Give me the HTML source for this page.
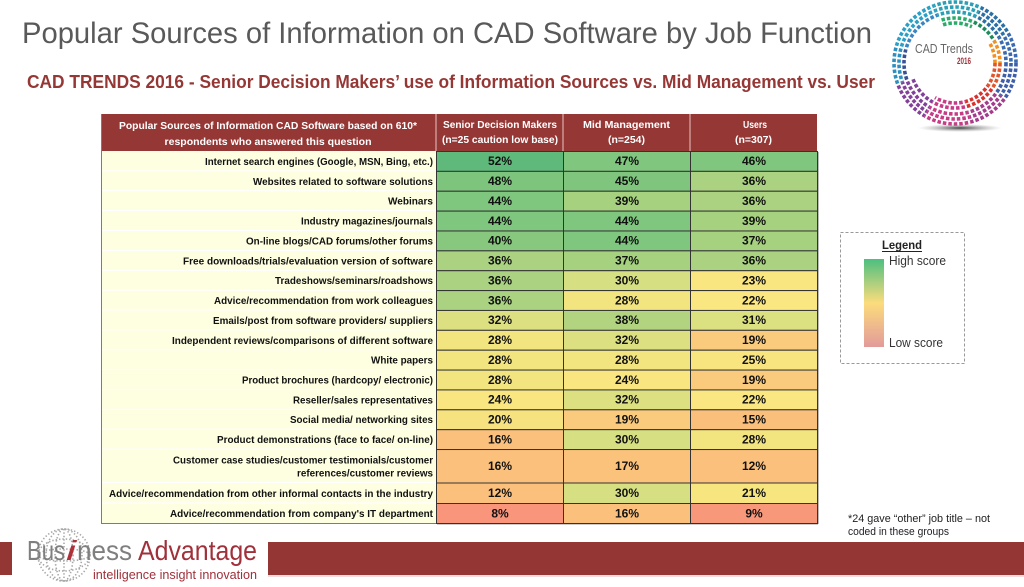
<!DOCTYPE html>
<html>
<head>
<meta charset="utf-8">
<style>
html,body{margin:0;padding:0;background:#fff;}
svg{display:block;}
text{font-family:"Liberation Sans",sans-serif;}
</style>
</head>
<body>
<svg width="1024" height="587" viewBox="0 0 1024 587" xmlns="http://www.w3.org/2000/svg">
<defs>
<linearGradient id="lg" x1="0" y1="0" x2="0" y2="1">
<stop offset="0" stop-color="#4cbf7f"/>
<stop offset="0.5" stop-color="#fcdc7c"/>
<stop offset="1" stop-color="#e29a9a"/>
</linearGradient>
<radialGradient id="sh" cx="0.5" cy="0.5" r="0.5">
<stop offset="0" stop-color="#333" stop-opacity="0.9"/>
<stop offset="1" stop-color="#999" stop-opacity="0"/>
</radialGradient>
<clipPath id="w1"><polygon points="955,63 1035,63 1020.5,108.9"/></clipPath>
<clipPath id="w2"><polygon points="955,63 1020.5,108.9 975.7,140.3"/></clipPath>
<clipPath id="w3"><polygon points="955,63 975.7,140.3 915,132.3"/></clipPath>
<clipPath id="w4"><polygon points="955,63 915,132.3 879.8,90.4"/></clipPath>
<clipPath id="w5"><polygon points="955,63 879.8,90.4 877.7,42.3"/></clipPath>
<clipPath id="w6"><polygon points="955,63 877.7,42.3 927.6,-12.2"/></clipPath>
<clipPath id="w7"><polygon points="955,63 927.6,-12.2 988.8,-9.5"/></clipPath>
<clipPath id="w8"><polygon points="955,63 988.8,-9.5 1024.3,23"/></clipPath>
<clipPath id="w9"><polygon points="955,63 1024.3,23 1035,63"/></clipPath>
</defs>
<rect width="1024" height="587" fill="#fff"/>

<!-- Title -->
<text x="22" y="43" font-size="30" fill="#595959" textLength="850" lengthAdjust="spacingAndGlyphs">Popular Sources of Information on CAD Software by Job Function</text>
<text x="27" y="88" font-size="18" font-weight="bold" fill="#953735" textLength="848" lengthAdjust="spacingAndGlyphs">CAD TRENDS 2016 - Senior Decision Makers’ use of Information Sources vs. Mid Management vs. User</text>

<!-- CAD Trends logo ring -->
<g fill="none" stroke-width="3.6">
<g clip-path="url(#w1)">
<g stroke="#e2542a" stroke-dasharray="3.5 2"><circle cx="955" cy="63" r="40"/><circle cx="955" cy="63" r="45"/></g>
<g stroke="#3d5ea8" stroke-dasharray="3.5 2"><circle cx="955" cy="63" r="51"/><circle cx="955" cy="63" r="56"/><circle cx="955" cy="63" r="61"/></g>
</g>
<g clip-path="url(#w2)">
<g stroke="#d8322f" stroke-dasharray="3.5 2"><circle cx="955" cy="63" r="40"/><circle cx="955" cy="63" r="45"/></g>
<g stroke="#a33c8c" stroke-dasharray="3.5 2"><circle cx="955" cy="63" r="51"/><circle cx="955" cy="63" r="56"/><circle cx="955" cy="63" r="61"/></g>
</g>
<g clip-path="url(#w3)" stroke="#c63a86" stroke-dasharray="3.5 2">
<circle cx="955" cy="63" r="40"/><circle cx="955" cy="63" r="45"/><circle cx="955" cy="63" r="51"/><circle cx="955" cy="63" r="56"/><circle cx="955" cy="63" r="61"/>
</g>
<g clip-path="url(#w4)" stroke="#83409b" stroke-dasharray="3.5 2">
<circle cx="955" cy="63" r="45"/><circle cx="955" cy="63" r="51"/><circle cx="955" cy="63" r="56"/><circle cx="955" cy="63" r="61"/>
</g>
<g clip-path="url(#w5)">
<g stroke="#3a4f96" stroke-dasharray="3.5 2"><circle cx="955" cy="63" r="51"/></g>
<g stroke="#2d8fc0" stroke-dasharray="3.5 2"><circle cx="955" cy="63" r="56"/><circle cx="955" cy="63" r="61"/></g>
</g>
<g clip-path="url(#w6)">
<g stroke="#3b86c0" stroke-dasharray="3.5 2"><circle cx="955" cy="63" r="51"/></g>
<g stroke="#2aa0c6" stroke-dasharray="3.5 2"><circle cx="955" cy="63" r="56"/><circle cx="955" cy="63" r="61"/></g>
</g>
<g clip-path="url(#w7)">
<g stroke="#2bab6a" stroke-dasharray="3.5 2"><circle cx="955" cy="63" r="40"/><circle cx="955" cy="63" r="45"/></g>
<g stroke="#2a9fb5" stroke-dasharray="3.5 2"><circle cx="955" cy="63" r="51"/><circle cx="955" cy="63" r="56"/><circle cx="955" cy="63" r="61"/></g>
</g>
<g clip-path="url(#w8)">
<g stroke="#1d8a5a" stroke-dasharray="3.5 2"><circle cx="955" cy="63" r="45"/></g>
<g stroke="#2a6fa5" stroke-dasharray="3.5 2"><circle cx="955" cy="63" r="51"/><circle cx="955" cy="63" r="56"/><circle cx="955" cy="63" r="61"/></g>
</g>
<g clip-path="url(#w9)">
<g stroke="#f29023" stroke-dasharray="3.5 2"><circle cx="955" cy="63" r="40"/><circle cx="955" cy="63" r="45"/></g>
<g stroke="#3b6ab0" stroke-dasharray="3.5 2"><circle cx="955" cy="63" r="51"/><circle cx="955" cy="63" r="56"/><circle cx="955" cy="63" r="61"/></g>
</g>
</g>
<ellipse cx="960" cy="128" rx="42" ry="4" fill="url(#sh)"/>
<text x="915" y="53" font-size="13" fill="#666" textLength="58" lengthAdjust="spacingAndGlyphs">CAD Trends</text>
<text x="957" y="64" font-size="9" font-weight="bold" fill="#a0303a" textLength="14" lengthAdjust="spacingAndGlyphs">2016</text>

<!-- Table header -->
<rect x="101" y="114" width="716" height="37" fill="#953735"/>
<g stroke="#e6c4c4" stroke-width="1">
<line x1="436" y1="114" x2="436" y2="151"/>
<line x1="563" y1="114" x2="563" y2="151"/>
<line x1="690" y1="114" x2="690" y2="151"/>
</g>
<g fill="#fff" font-weight="bold" font-size="10.5" text-anchor="middle">
<text x="268" y="129" textLength="298" lengthAdjust="spacingAndGlyphs">Popular Sources of Information CAD Software based on 610*</text>
<text x="268" y="145" textLength="207" lengthAdjust="spacingAndGlyphs">respondents who answered this question</text>
<text x="500" y="128" textLength="114" lengthAdjust="spacingAndGlyphs">Senior Decision Makers</text>
<text x="500" y="143" textLength="116" lengthAdjust="spacingAndGlyphs">(n=25 caution low base)</text>
<text x="626.5" y="128" textLength="87" lengthAdjust="spacingAndGlyphs">Mid Management</text>
<text x="626.5" y="143" textLength="37" lengthAdjust="spacingAndGlyphs">(n=254)</text>
<text x="755" y="128" textLength="24" lengthAdjust="spacingAndGlyphs">Users</text>
<text x="753.5" y="143" textLength="37" lengthAdjust="spacingAndGlyphs">(n=307)</text>
</g>

<!-- label column background -->
<rect x="101" y="151" width="335" height="372" fill="#fefee1"/>
<g stroke="#ffffff" stroke-width="1.2">
<line x1="102" y1="170.87" x2="436" y2="170.87"/>
<line x1="102" y1="190.74" x2="436" y2="190.74"/>
<line x1="102" y1="210.61" x2="436" y2="210.61"/>
<line x1="102" y1="230.48" x2="436" y2="230.48"/>
<line x1="102" y1="250.35" x2="436" y2="250.35"/>
<line x1="102" y1="270.22" x2="436" y2="270.22"/>
<line x1="102" y1="290.09" x2="436" y2="290.09"/>
<line x1="102" y1="309.96" x2="436" y2="309.96"/>
<line x1="102" y1="329.83" x2="436" y2="329.83"/>
<line x1="102" y1="349.70" x2="436" y2="349.70"/>
<line x1="102" y1="369.57" x2="436" y2="369.57"/>
<line x1="102" y1="389.44" x2="436" y2="389.44"/>
<line x1="102" y1="409.31" x2="436" y2="409.31"/>
<line x1="102" y1="429.18" x2="436" y2="429.18"/>
<line x1="102" y1="449.05" x2="436" y2="449.05"/>
<line x1="102" y1="482.5" x2="436" y2="482.5"/>
<line x1="102" y1="503" x2="436" y2="503"/>
</g>

<!-- labels -->
<g font-size="10.5" font-weight="bold" fill="#111" text-anchor="end">
<text x="433" y="164.9" textLength="228" lengthAdjust="spacingAndGlyphs">Internet search engines (Google, MSN, Bing, etc.)</text>
<text x="433" y="184.8" textLength="180" lengthAdjust="spacingAndGlyphs">Websites related to software solutions</text>
<text x="433" y="204.7" textLength="45" lengthAdjust="spacingAndGlyphs">Webinars</text>
<text x="433" y="224.5" textLength="132" lengthAdjust="spacingAndGlyphs">Industry magazines/journals</text>
<text x="433" y="244.4" textLength="187" lengthAdjust="spacingAndGlyphs">On-line blogs/CAD forums/other forums</text>
<text x="433" y="264.3" textLength="250" lengthAdjust="spacingAndGlyphs">Free downloads/trials/evaluation version of software</text>
<text x="433" y="284.2" textLength="158" lengthAdjust="spacingAndGlyphs">Tradeshows/seminars/roadshows</text>
<text x="433" y="304.0" textLength="219" lengthAdjust="spacingAndGlyphs">Advice/recommendation from work colleagues</text>
<text x="433" y="323.9" textLength="220" lengthAdjust="spacingAndGlyphs">Emails/post from software providers/ suppliers</text>
<text x="433" y="343.8" textLength="261" lengthAdjust="spacingAndGlyphs">Independent reviews/comparisons of different software</text>
<text x="433" y="363.6" textLength="62" lengthAdjust="spacingAndGlyphs">White papers</text>
<text x="433" y="383.5" textLength="191" lengthAdjust="spacingAndGlyphs">Product brochures (hardcopy/ electronic)</text>
<text x="433" y="403.4" textLength="140" lengthAdjust="spacingAndGlyphs">Reseller/sales representatives</text>
<text x="433" y="423.2" textLength="143" lengthAdjust="spacingAndGlyphs">Social media/ networking sites</text>
<text x="433" y="443.1" textLength="216" lengthAdjust="spacingAndGlyphs">Product demonstrations (face to face/ on-line)</text>
<text x="433" y="463.3" textLength="260" lengthAdjust="spacingAndGlyphs">Customer case studies/customer testimonials/customer</text>
<text x="433" y="476.3" textLength="136" lengthAdjust="spacingAndGlyphs">references/customer reviews</text>
<text x="433" y="496.8" textLength="324" lengthAdjust="spacingAndGlyphs">Advice/recommendation from other informal contacts in the industry</text>
<text x="433" y="517" textLength="263" lengthAdjust="spacingAndGlyphs">Advice/recommendation from company's IT department</text>
</g>

<!-- data cells -->
<g stroke="#333" stroke-width="1">
<rect x="436.5" y="151.5" width="127" height="19.87" fill="#5eb97b"/><rect x="563.5" y="151.5" width="127" height="19.87" fill="#80c67e"/><rect x="690.5" y="151.5" width="127" height="19.87" fill="#81c67e"/>
<rect x="436.5" y="171.37" width="127" height="19.87" fill="#7dc57d"/><rect x="563.5" y="171.37" width="127" height="19.87" fill="#7fc57d"/><rect x="690.5" y="171.37" width="127" height="19.87" fill="#aad280"/>
<rect x="436.5" y="191.24" width="127" height="19.87" fill="#7fc67e"/><rect x="563.5" y="191.24" width="127" height="19.87" fill="#a6d17f"/><rect x="690.5" y="191.24" width="127" height="19.87" fill="#aad280"/>
<rect x="436.5" y="211.11" width="127" height="19.87" fill="#7fc67e"/><rect x="563.5" y="211.11" width="127" height="19.87" fill="#7fc67e"/><rect x="690.5" y="211.11" width="127" height="19.87" fill="#a6d17f"/>
<rect x="436.5" y="230.98" width="127" height="19.87" fill="#88c87e"/><rect x="563.5" y="230.98" width="127" height="19.87" fill="#7fc67e"/><rect x="690.5" y="230.98" width="127" height="19.87" fill="#a6d17f"/>
<rect x="436.5" y="250.85" width="127" height="19.87" fill="#aad280"/><rect x="563.5" y="250.85" width="127" height="19.87" fill="#a6d17f"/><rect x="690.5" y="250.85" width="127" height="19.87" fill="#aad280"/>
<rect x="436.5" y="270.72" width="127" height="19.87" fill="#aad280"/><rect x="563.5" y="270.72" width="127" height="19.87" fill="#d6df81"/><rect x="690.5" y="270.72" width="127" height="19.87" fill="#fae681"/>
<rect x="436.5" y="290.59" width="127" height="19.87" fill="#aad280"/><rect x="563.5" y="290.59" width="127" height="19.87" fill="#f2e47f"/><rect x="690.5" y="290.59" width="127" height="19.87" fill="#fbe782"/>
<rect x="436.5" y="310.46" width="127" height="19.87" fill="#dde081"/><rect x="563.5" y="310.46" width="127" height="19.87" fill="#b2d480"/><rect x="690.5" y="310.46" width="127" height="19.87" fill="#dbe081"/>
<rect x="436.5" y="330.33" width="127" height="19.87" fill="#f2e47f"/><rect x="563.5" y="330.33" width="127" height="19.87" fill="#dde081"/><rect x="690.5" y="330.33" width="127" height="19.87" fill="#fbcb7d"/>
<rect x="436.5" y="350.2" width="127" height="19.87" fill="#f2e47f"/><rect x="563.5" y="350.2" width="127" height="19.87" fill="#f2e47f"/><rect x="690.5" y="350.2" width="127" height="19.87" fill="#f8e580"/>
<rect x="436.5" y="370.07" width="127" height="19.87" fill="#f2e47f"/><rect x="563.5" y="370.07" width="127" height="19.87" fill="#f9e681"/><rect x="690.5" y="370.07" width="127" height="19.87" fill="#fbcb7d"/>
<rect x="436.5" y="389.94" width="127" height="19.87" fill="#f9e681"/><rect x="563.5" y="389.94" width="127" height="19.87" fill="#dde081"/><rect x="690.5" y="389.94" width="127" height="19.87" fill="#fbe782"/>
<rect x="436.5" y="409.81" width="127" height="19.87" fill="#f6e37f"/><rect x="563.5" y="409.81" width="127" height="19.87" fill="#fbcb7d"/><rect x="690.5" y="409.81" width="127" height="19.87" fill="#fbbf7c"/>
<rect x="436.5" y="429.68" width="127" height="19.87" fill="#fbc17c"/><rect x="563.5" y="429.68" width="127" height="19.87" fill="#d6df81"/><rect x="690.5" y="429.68" width="127" height="19.87" fill="#f2e47f"/>
<rect x="436.5" y="449.55" width="127" height="33.45" fill="#fbc17c"/><rect x="563.5" y="449.55" width="127" height="33.45" fill="#fbc27c"/><rect x="690.5" y="449.55" width="127" height="33.45" fill="#fbc07c"/>
<rect x="436.5" y="483" width="127" height="20.5" fill="#fbc07c"/><rect x="563.5" y="483" width="127" height="20.5" fill="#d6df81"/><rect x="690.5" y="483" width="127" height="20.5" fill="#f7e580"/>
<rect x="436.5" y="503.5" width="127" height="20" fill="#f8957a"/><rect x="563.5" y="503.5" width="127" height="20" fill="#fbc17c"/><rect x="690.5" y="503.5" width="127" height="20" fill="#f8987a"/>
</g>

<!-- values -->
<g font-size="12" font-weight="bold" fill="#111" text-anchor="middle">
<text x="500" y="165.2">52%</text><text x="627" y="165.2">47%</text><text x="754" y="165.2">46%</text>
<text x="500" y="185.1">48%</text><text x="627" y="185.1">45%</text><text x="754" y="185.1">36%</text>
<text x="500" y="205.0">44%</text><text x="627" y="205.0">39%</text><text x="754" y="205.0">36%</text>
<text x="500" y="224.8">44%</text><text x="627" y="224.8">44%</text><text x="754" y="224.8">39%</text>
<text x="500" y="244.7">40%</text><text x="627" y="244.7">44%</text><text x="754" y="244.7">37%</text>
<text x="500" y="264.6">36%</text><text x="627" y="264.6">37%</text><text x="754" y="264.6">36%</text>
<text x="500" y="284.5">36%</text><text x="627" y="284.5">30%</text><text x="754" y="284.5">23%</text>
<text x="500" y="304.3">36%</text><text x="627" y="304.3">28%</text><text x="754" y="304.3">22%</text>
<text x="500" y="324.2">32%</text><text x="627" y="324.2">38%</text><text x="754" y="324.2">31%</text>
<text x="500" y="344.1">28%</text><text x="627" y="344.1">32%</text><text x="754" y="344.1">19%</text>
<text x="500" y="363.9">28%</text><text x="627" y="363.9">28%</text><text x="754" y="363.9">25%</text>
<text x="500" y="383.8">28%</text><text x="627" y="383.8">24%</text><text x="754" y="383.8">19%</text>
<text x="500" y="403.7">24%</text><text x="627" y="403.7">32%</text><text x="754" y="403.7">22%</text>
<text x="500" y="423.5">20%</text><text x="627" y="423.5">19%</text><text x="754" y="423.5">15%</text>
<text x="500" y="443.4">16%</text><text x="627" y="443.4">30%</text><text x="754" y="443.4">28%</text>
<text x="500" y="470.1">16%</text><text x="627" y="470.1">17%</text><text x="754" y="470.1">12%</text>
<text x="500" y="497.1">12%</text><text x="627" y="497.1">30%</text><text x="754" y="497.1">21%</text>
<text x="500" y="517.3">8%</text><text x="627" y="517.3">16%</text><text x="754" y="517.3">9%</text>
</g>

<line x1="101.5" y1="114" x2="101.5" y2="523.5" stroke="#c0605d" stroke-width="1"/>
<line x1="101" y1="523.5" x2="436" y2="523.5" stroke="#c0605d" stroke-width="1"/>
<line x1="818.5" y1="152" x2="818.5" y2="524" stroke="#bbb" stroke-width="1"/>
<line x1="437" y1="524.5" x2="818" y2="524.5" stroke="#ccc" stroke-width="1"/>

<!-- Legend -->
<rect x="840.5" y="232.5" width="124" height="131" fill="none" stroke="#999" stroke-width="1" stroke-dasharray="3 2"/>
<text x="882" y="249" font-size="11.5" font-weight="bold" fill="#222" textLength="40" lengthAdjust="spacingAndGlyphs">Legend</text>
<line x1="882" y1="251.5" x2="922" y2="251.5" stroke="#222" stroke-width="1"/>
<rect x="864" y="259" width="20" height="88" fill="url(#lg)"/>
<text x="889" y="265" font-size="13" fill="#333" textLength="57" lengthAdjust="spacingAndGlyphs">High score</text>
<text x="889" y="347" font-size="13" fill="#333" textLength="54" lengthAdjust="spacingAndGlyphs">Low score</text>

<!-- footnote -->
<text x="848" y="522" font-size="11" fill="#222" textLength="142" lengthAdjust="spacingAndGlyphs">*24 gave “other” job title – not</text>
<text x="848" y="535" font-size="11" fill="#222" textLength="101" lengthAdjust="spacingAndGlyphs">coded in these groups</text>

<!-- Footer -->
<rect x="0" y="542" width="12" height="33" fill="#943634"/>
<rect x="268" y="542" width="756" height="33" fill="#943634"/>
<line x1="268" y1="576" x2="1024" y2="576" stroke="#e2b8b8" stroke-width="1"/>

<!-- Business Advantage globe -->
<g fill="none" stroke="#a8a8a8" stroke-width="1.6" stroke-dasharray="1.4 2">
<circle cx="64" cy="555" r="26"/>
<ellipse cx="64" cy="555" rx="18" ry="26"/>
<ellipse cx="64" cy="555" rx="9" ry="26"/>
<ellipse cx="64" cy="555" rx="26" ry="16"/>
<ellipse cx="64" cy="555" rx="26" ry="6"/>
<line x1="64" y1="529" x2="64" y2="581"/>
</g>
<text x="27" y="560" font-size="28" fill="#7f7f7f" textLength="38" lengthAdjust="spacingAndGlyphs">Bus</text>
<text x="66" y="560" font-size="28" fill="#b0303a" font-style="italic" textLength="10" lengthAdjust="spacingAndGlyphs">i</text>
<text x="77" y="560" font-size="28" fill="#7f7f7f" textLength="55" lengthAdjust="spacingAndGlyphs">ness</text>
<text x="138" y="560" font-size="28" fill="#a0303a" textLength="119" lengthAdjust="spacingAndGlyphs">Advantage</text>
<text x="93" y="579" font-size="13" fill="#a0303a" textLength="164" lengthAdjust="spacingAndGlyphs">intelligence insight innovation</text>
</svg>
</body>
</html>
